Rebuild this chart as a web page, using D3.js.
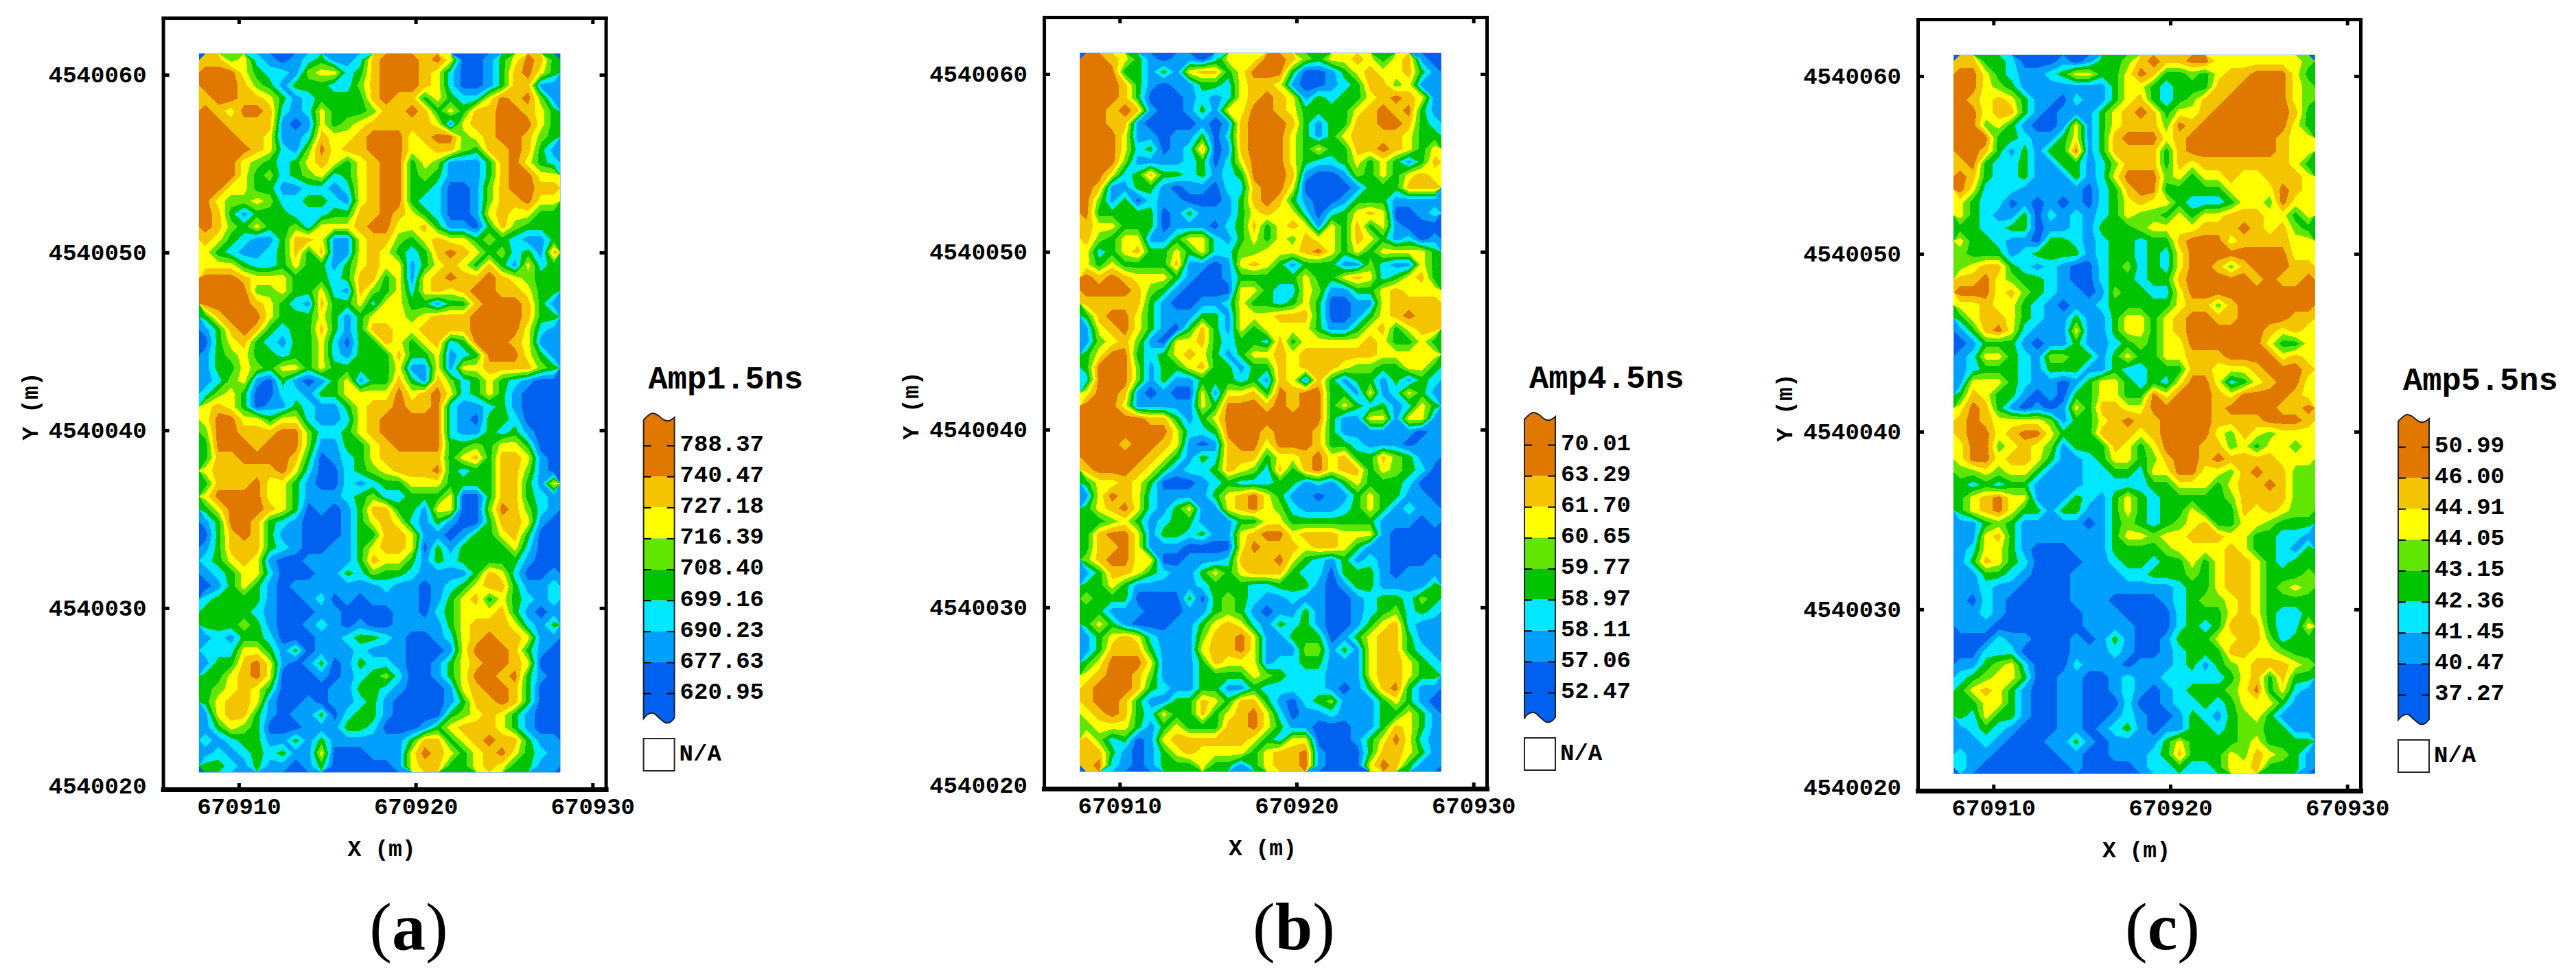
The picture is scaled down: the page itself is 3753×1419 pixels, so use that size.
<!DOCTYPE html>
<html><head><meta charset="utf-8">
<style>html,body{margin:0;padding:0;background:#fff}svg{display:block}</style>
<script src="https://cdn.jsdelivr.net/npm/d3@7"></script>
</head><body><svg id="c" width="3753" height="1419"></svg>
<script>
// Class index per grid cell: 0 = lowest band (blue) ... 7 = highest band (orange)
const gridA = [
"6645 2101 2311 2677 7675 0013 5763","7775 3221 4552 3677 7652 0013 6753","7776 4313 3322 4677 7652 0013 6611","6776 6531 2333 3676 6353 2257 6741",
"7657 7621 2533 3466 7635 3667 7653","7766 6610 1534 5666 6651 5667 7753","7776 6511 2655 6777 5677 4567 7643","7777 6521 4756 6777 5566 4366 7631",
"7775 4323 5653 5677 3541 1136 7532","7775 3423 4523 5677 3431 1136 7755","7755 3311 2212 5677 3320 0146 7766","7544 5422 3321 5677 3220 0146 6755",
"7631 3332 2233 6676 5320 0156 5533","7643 5334 2555 6775 5631 1036 4333","6532 1136 6511 5664 3565 5343 2113","5321 1236 3611 5653 2367 6534 2316",
"5553 2235 3313 5655 1356 5363 1523","7776 5553 3323 6635 1567 6676 5433","7777 4453 3521 6435 2565 6776 6533","7777 6532 1633 5255 3313 3677 7631",
"3677 7533 3531 3555 4566 6777 7633","1367 6323 3631 3665 5666 6777 7521","0356 3213 3520 3365 3562 3777 6511","1345 3323 3521 3336 3351 2377 7531",
"1335 4355 3533 3335 1151 5566 6643","1245 1031 0135 1336 3164 2353 2100","2453 0022 1335 5557 5675 2353 1000","5653 0113 2113 5667 6672 1123 1000",
"5775 5355 2112 5677 7772 1033 2000","4776 6677 4223 5677 7772 1132 3100","3777 6777 4113 3567 7773 3435 5300","3667 7776 3012 3566 6663 5636 6510",
"5666 6675 2002 3456 6673 2336 6410","3666 7553 1002 1233 5553 3336 6315","5777 7553 1112 3422 3335 0036 6321","3577 7653 0101 3663 3155 0047 6421",
"1377 6321 0001 3565 2131 0036 6510","0367 6311 0001 3366 5110 1335 6300","1366 6321 0011 3566 5031 3333 5200","2356 5100 1111 3655 3132 3333 3100",
"1235 5200 0113 2433 2111 1365 2001","0135 3101 1111 1121 1012 3566 3112","2333 3100 1201 0111 1013 5635 3212","3333 2100 0110 0001 1023 5556 3101",
"3334 3100 1210 1001 1113 5666 5213","1213 3200 0112 3321 0012 5676 6511","2225 5313 0111 2111 0001 5777 6310","1336 7510 1301 3221 0013 5677 6500",
"3356 7500 0101 2342 0013 5776 7310","3456 5300 0011 3321 0001 5677 6300","3566 5100 1011 2310 0001 3667 6300","1566 3101 1302 3310 0003 4565 3100",
"1354 3000 1113 3200 0135 6665 3100","2123 3113 1311 1111 3663 5676 6311","1212 3231 1500 0111 5765 3567 5321","3321 3110 1300 0001 5663 3565 3311"];
const gridB = [
"7765 3101 1025 5577 6435 5653 5610","7773 3131 5663 5777 3001 3565 5631","7776 3101 1332 5665 1001 2366 4511","7776 3000 1212 5676 5132 3356 7651",
"7767 6100 1315 5776 5333 3567 6731","7766 1000 0101 6777 6313 3667 7632","7775 1101 1302 6777 5313 5666 6533","7775 2301 2601 6777 5353 3667 6535",
"7774 1111 2302 5777 5322 3535 3136","7752 3633 2312 3777 6100 1435 3565","7611 3310 1102 2677 5000 0133 3666","7413 0211 0001 3676 3100 1333 1111",
"7333 3301 3111 3565 5202 3565 0012","6553 3301 1102 3635 6515 3635 1000","6435 5113 5521 3535 4655 3653 1201","5235 6335 3522 4455 5675 3535 5553",
"5353 3336 1101 5653 1333 1142 1153","7676 5553 1001 3333 3533 5652 3563","7777 6431 0000 5532 2541 1335 6555","6666 6310 0112 5332 3530 0115 6666",
"3677 5311 1331 5556 6630 0135 6766","1567 5310 3631 5355 5531 1356 3566","1456 4105 5632 3326 3555 5565 3353","3577 3235 6531 3556 5666 6665 5555",
"3777 4133 5633 1336 5666 5443 3553","2777 4131 1333 2316 5163 1331 3132","5776 1010 0515 5637 6773 3151 2531","7775 1111 1537 7767 6773 5323 1253",
"7777 7663 1357 7777 7773 1155 1551","7777 7775 2237 7767 7763 1111 1101","7776 7765 1016 7757 7763 3211 1011","7777 7653 1326 6635 5675 6336 4311",
"6777 6531 2236 5426 3675 6635 4320","3556 5300 0123 2223 3121 3533 3200","1576 5211 1135 6753 1101 1353 3110","3567 5213 5115 6754 2111 2353 1211",
"3345 3123 3111 3355 3333 3331 1101","3677 5133 2311 5677 5666 5551 0000","3667 5111 0000 5766 6566 5311 0000","4677 5500 1112 6667 5321 3121 0001",
"1366 5321 1353 5666 3220 3331 0111","3353 1111 1233 3223 3310 1331 1113","4333 0000 3034 3211 2110 0123 3243","3311 1000 1134 3101 1310 0123 4232",
"3531 0001 1356 5213 2310 0135 6211","1356 5211 1466 7511 3330 1356 6311","1366 6311 1566 7511 1441 3156 6321","3577 7511 1365 5512 2331 1156 6532",
"5677 6411 1333 3543 2221 1156 6533","6777 6321 1331 1322 2221 0136 7311","6776 3113 3653 6631 0234 1113 5310","5676 3253 3635 6752 0112 1113 3531",
"4555 3135 3336 6753 1100 0113 6531","6423 0156 6666 6532 5500 0135 7521","6631 0135 6555 5356 6710 0036 6531","6721 0133 3533 1356 6710 0057 6311"];
const gridC = [
"6633 2000 1013 3467 6677 5555 5554","7753 2112 3553 3576 3343 5667 7753","7754 3111 1111 3553 2333 6677 7754","7656 5311 0211 3563 2346 6777 7754",
"7756 6310 1113 5676 3556 7777 7763","7745 3100 1513 5666 4767 7777 7753","7773 3211 3513 6777 5677 7777 7655","7763 1313 3713 6666 3677 7777 7655",
"6732 2311 3312 4666 3656 6666 6653","7632 2311 1312 5777 4535 5655 6665","7522 2111 1102 3677 3333 3555 5765","5322 0101 0102 3565 5322 2355 4755",
"5321 1302 1212 3544 3535 5666 5535","3322 3301 1213 3345 5556 6676 5643","5332 1103 3212 3323 3677 7566 6655","4333 1233 3312 3323 2577 7777 7755",
"4566 3212 1002 3423 2577 6467 7766","6675 4332 1002 3323 3677 7776 7667","7775 6432 1101 4332 2577 7777 7777","5565 5321 0112 3333 3566 4677 7777",
"3566 5321 1311 3553 5677 6677 7766","1367 5211 1511 3553 5677 7777 6565","0133 3101 1311 2343 5577 7777 5335","1255 3214 4331 3533 5566 6777 7565",
"1233 3213 3311 3223 3366 5556 7776","1555 3211 0135 5323 2577 5235 6775","3653 3101 0335 5337 5777 6577 7765","5763 1010 1536 6557 7777 6777 7667",
"6765 5554 1335 6766 7777 6666 7776","6775 6775 3336 6656 7777 5465 4555","5774 5654 1333 6535 7776 6453 5545","5775 6653 1123 5534 6776 7666 6555",
"4454 5531 1122 3325 5775 5467 6644","3232 3311 1122 2223 3555 3566 7644","3567 5511 1321 3532 3333 3466 6644","3567 5331 3311 3532 3353 3365 6544",
"1134 3111 1101 3432 3456 3355 4333","1156 3111 1111 3554 5566 6553 3221","1255 3100 0111 3333 4555 5653 3213","1365 3200 0011 2332 3353 5665 3233",
"1133 2100 0111 1223 3343 5665 3334","1121 1000 0111 1111 1233 5665 3454","1021 0000 0111 0000 1234 4565 3333","1121 0000 0011 1000 0233 3565 3223",
"1110 0000 0011 1100 0232 3666 3225","0002 1100 0101 3100 1333 5566 4233","0022 2000 0111 2100 1233 3665 5433","1134 5200 0211 1011 1231 3456 6654",
"2345 5300 1100 1211 2222 2356 3633","3565 3100 1100 1210 1233 3457 3521","3355 3100 1100 0200 1223 2355 5311","3253 3100 1100 1210 0132 1345 3111",
"1232 1000 1101 2310 1133 2344 3311","1121 0001 1310 1111 3533 3345 3333","2110 0000 1100 1112 3633 3546 5431","2100 0000 0100 0012 2322 3556 3331"];

const valuesA = ["788.37","740.47","727.18","716.39","708.40","699.16","690.23","677.63","620.95"];
const valuesB = ["70.01","63.29","61.70","60.65","59.77","58.97","58.11","57.06","52.47"];
const valuesC = ["50.99","46.00","44.91","44.05","43.15","42.36","41.45","40.47","37.27"];
const titles = ["Amp1.5ns","Amp4.5ns","Amp5.5ns"];
const captions = ["a","b","c"];
const bandColors = ["#0060f0","#00a0fc","#00e8ff","#00c400","#60e600","#ffff00","#f5c400","#e07800"];

const xTicks = [670910,670920,670930];
const yTicks = [4540020,4540030,4540040,4540050,4540060];
const xDomain = [670905.72,670930.75];
const yDomain = [4540019.8,4540063.2];
const xExtent = [670907.75,670928.18];
const yExtent = [4540020.75,4540061.2];

// Layout
const origins = [[237.6,26],[1521,25],[2794,28]];
const captionX = [595.5,1885,3150.5];
const W = 645, H = 1124;
const monoFont = "'Liberation Mono',monospace";
const waveTop = [[0,10],[6,4],[13,0],[21,3],[30,10],[37,11],[45,6]];
const waveBottom = [[45,1046],[39,1052],[32,1053],[24,1047],[14,1039],[6,1041],[0,1047]];

const svg = d3.select("#c");
const grids = [gridA,gridB,gridC].map(g => g.map(r => r.replace(/ /g,"")));
const values = [valuesA,valuesB,valuesC];

grids.forEach(g => { if (g.length !== 56) throw new Error("rows " + g.length);
  g.forEach(r => { if (r.length !== 28) throw new Error("bad row " + r); }); });

grids.forEach((grid,i) => {
  const [ox,oy] = origins[i];
  const g = svg.append("g").attr("transform",`translate(${ox},${oy})`);
  const x = d3.scaleLinear().domain(xDomain).range([0,W]);
  const y = d3.scaleLinear().domain(yDomain).range([H,0]);
  const nx = grid[0].length, ny = grid.length;
  const gx = d3.scaleLinear().domain([0,nx]).range(xExtent.map(x));
  const gy = d3.scaleLinear().domain([0,ny]).range(yExtent.slice().reverse().map(y));
  const cells = grid.flatMap(r => Array.from(r,Number));
  const thresholds = d3.range(1,8).map(k => k - 0.5);
  const contours = d3.contours().size([nx,ny]).thresholds(thresholds)(cells);
  const path = d3.geoPath(d3.geoTransform({point(a,b){this.stream.point(gx(a),gy(b));}}));

  g.append("rect").attr("x",gx(0)).attr("y",gy(0))
    .attr("width",gx(nx)-gx(0)).attr("height",gy(ny)-gy(0)).attr("fill",bandColors[0]);
  g.append("g").attr("shape-rendering","crispEdges").selectAll("path").data(contours).join("path")
    .attr("d",path).attr("fill",(d,k) => bandColors[k+1]);

  // Frame and ticks
  const axes = [
    [d3.axisBottom(x).tickValues(xTicks).tickFormat(d3.format("d")),0,H,12],
    [d3.axisTop(x).tickValues(xTicks).tickFormat(""),0,0,0],
    [d3.axisLeft(y).tickValues(yTicks.slice(1)).tickFormat(d3.format("d")),0,0,24],
    [d3.axisRight(y).tickValues(yTicks.slice(1)).tickFormat(""),W,0,0]
  ];
  axes.forEach(([ax,tx,ty,pad],k) => {
    const a = g.append("g").attr("transform",`translate(${tx},${ty})`)
      .call(ax.tickSizeOuter(0).tickSizeInner(-9).tickPadding(pad));
    a.select(".domain").attr("stroke","#000").attr("stroke-width",k === 0 ? 7 : 5)
      .attr("stroke-linecap","square");
    a.selectAll(".tick line").attr("stroke","#000").attr("stroke-width",5);
    a.selectAll("text").attr("font-family",monoFont).attr("font-weight","bold")
      .attr("font-size",34).attr("fill","#000");
  });
  // 4540020 is labelled just above the bottom edge, with the frame as its tick
  g.append("text").attr("x",-24).attr("y",y(yTicks[0])).attr("dy",".32em").attr("text-anchor","end")
    .attr("font-family",monoFont).attr("font-weight","bold").attr("font-size",34)
    .text(yTicks[0]);

  g.append("text").attr("x",W*0.4875+4).attr("y",H+97).attr("text-anchor","middle")
    .attr("font-family",monoFont).attr("font-weight","bold").attr("font-size",33).attr("xml:space","preserve").text("X (m)");
  g.append("text").attr("transform",`translate(${-183},${566}) rotate(-90)`).attr("text-anchor","middle")
    .attr("font-family",monoFont).attr("font-weight","bold").attr("font-size",33).text("Y (m)");

  // Legend
  const lx = 700, lw = 45, top = 576;
  const lg = g.append("g").attr("transform",`translate(${lx},${top})`);
  const vals = values[i];
  const ly = d3.scalePoint().domain(vals).range([47,408]);
  const wave = d3.line().curve(d3.curveCatmullRom);
  const outline = wave(waveTop) + wave(waveBottom.map(([a,b]) => [a,b-576-26])).replace("M","L") + "Z";
  lg.append("clipPath").attr("id","lc"+i).append("path").attr("d",outline);
  const edges = [-40,...vals.slice(1,8).map(ly),460];
  lg.append("g").attr("clip-path",`url(#lc${i})`).selectAll("rect")
    .data(d3.range(8)).join("rect")
    .attr("x",0).attr("width",lw).attr("y",k => edges[k]).attr("height",k => edges[k+1]-edges[k])
    .attr("fill",k => bandColors[7-k]);
  lg.append("path").attr("d",outline).attr("fill","none").attr("stroke","#222").attr("stroke-width",2);
  const lr = lg.append("g").attr("transform",`translate(${lw},0)`)
    .call(d3.axisRight(ly).tickSizeOuter(0).tickSizeInner(-11).tickPadding(8));
  lr.select(".domain").remove();
  lr.selectAll("line").attr("stroke","#000").attr("stroke-width",2);
  lr.selectAll("text").attr("font-family",monoFont).attr("font-weight","bold").attr("font-size",34)
    .attr("dy",".22em").attr("fill","#000");
  const ll = lg.append("g").call(d3.axisLeft(ly).tickSizeOuter(0).tickSizeInner(-11).tickFormat(""));
  ll.select(".domain").remove();
  ll.selectAll("line").attr("stroke","#000").attr("stroke-width",2);

  lg.append("text").attr("x",7).attr("y",-36).attr("font-family",monoFont).attr("font-weight","bold")
    .attr("font-size",47).text(titles[i]);
  lg.append("rect").attr("x",0).attr("y",474).attr("width",lw).attr("height",47)
    .attr("fill","#fff").attr("stroke","#222").attr("stroke-width",2);
  lg.append("text").attr("x",52).attr("y",506).attr("font-family",monoFont).attr("font-weight","bold")
    .attr("font-size",34).text("N/A");

  // Panel caption
  const cap = svg.append("text").attr("x",captionX[i]).attr("y",1383).attr("text-anchor","middle")
    .attr("font-family","'Liberation Serif',serif").attr("font-size",98).attr("fill","#000");
  cap.append("tspan").text("(");
  cap.append("tspan").attr("font-weight","bold").text(captions[i]);
  cap.append("tspan").text(")");
});
</script></body></html>
